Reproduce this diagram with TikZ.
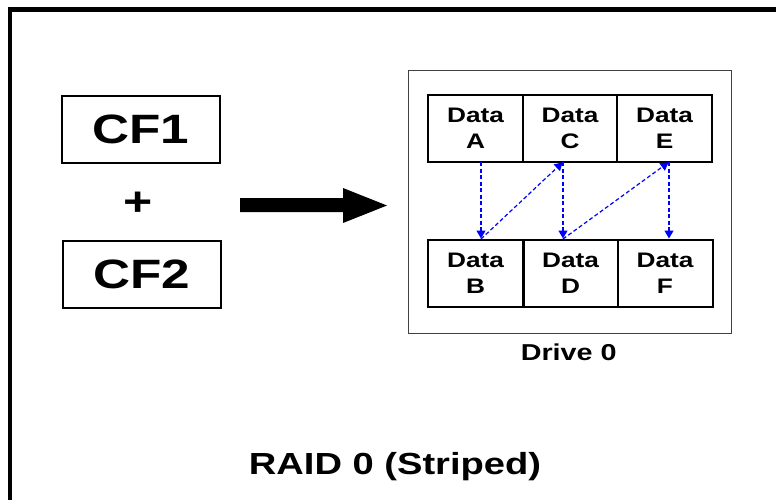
\documentclass[tikz,border=0pt]{standalone}
\usepackage{fontspec}
\setmainfont[FakeStretch=1.25]{Liberation Sans}
\usetikzlibrary{arrows.meta}
\tikzset{
  bigbox/.style={draw=black, line width=2pt, minimum width=158pt, minimum height=67pt, inner sep=0pt, font=\fontsize{41}{48}\selectfont\bfseries},
  cell/.style={draw=black, line width=2pt, minimum width=95pt, minimum height=67pt, inner sep=0pt, align=center, font=\fontsize{21}{26}\selectfont\bfseries},
  stripe/.style={draw=blue, line width=1.2pt, dash pattern=on 4pt off 2.5pt, -{Triangle[length=8pt,width=9pt]}, shorten >=0.5pt},
  lbl/.style={inner sep=0pt, font=\bfseries}
}
\begin{document}
\begin{tikzpicture}[x=1pt,y=-1pt]
\useasboundingbox (0,0) rectangle (776,499);
\begin{scope}
\clip (0,0) rectangle (776,499);
\fill[white] (0,0) rectangle (776,499);
\draw[line width=4.8pt] (10,9.5) rectangle (800,530);
\end{scope}
% left side
\node[bigbox] (cf1) at (141,129.5) {CF1};
\node[bigbox] (cf2) at (141.5,274) {CF2};
\node[lbl, font=\fontsize{40}{48}\selectfont\bfseries] (plus) at (138,204) {+};
\fill[black] (240,198) -- (343,198) -- (343,188) -- (387,205.5) -- (343,223) -- (343,212) -- (240,212) -- cycle;
% drive
\node[draw=black!75, line width=1pt, minimum width=323pt, minimum height=263pt, inner sep=0pt] (drive) at (569.5,201.5) {};
\node[cell, minimum width=95pt] (cA) at (475.5,128.5) {Data\\A};
\node[cell, minimum width=94pt] (cC) at (570,128.5) {Data\\C};
\node[cell, minimum width=95pt] (cE) at (664.5,128.5) {Data\\E};
\node[cell, minimum width=95pt] (cB) at (475.5,273) {Data\\B};
\node[cell, minimum width=94pt] (cD) at (570.5,273) {Data\\D};
\node[cell, minimum width=95pt] (cF) at (665,273) {Data\\F};
\coordinate (pA) at (481,162);
\coordinate (pB) at (481,239);
\coordinate (pC) at (563,162);
\coordinate (pD) at (563,239);
\coordinate (pE) at (669,162);
\coordinate (pF) at (669,239);
\draw[stripe] (pA) -- (pB);
\draw[stripe] (pB) -- (pC);
\draw[stripe] (pC) -- (pD);
\draw[stripe] (pD) -- (pE);
\draw[stripe] (pE) -- (pF);
\node[lbl, font=\fontsize{23}{28}\selectfont\bfseries] (drv) at (568.7,352.7) {Drive 0};
\node[lbl, font=\fontsize{30.5}{37}\selectfont\bfseries] (title) at (395,467) {RAID 0 (Striped)};
\end{tikzpicture}
\end{document}
